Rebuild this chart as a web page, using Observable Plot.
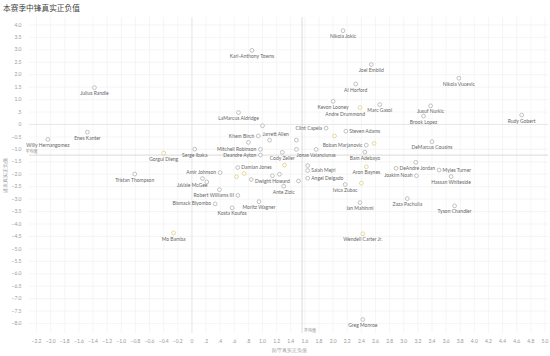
<!DOCTYPE html>
<html><head><meta charset="utf-8">
<script src="https://cdn.jsdelivr.net/npm/d3@7"></script>
<script src="https://cdn.jsdelivr.net/npm/@observablehq/plot@0.6"></script>
<style>
body{margin:0;background:#fff;width:550px;height:356px;overflow:hidden}
#title{height:14px;font-family:"Noto Sans CJK SC";font-size:7.7px;color:#444;padding-left:3px;line-height:16px;white-space:nowrap}
#chart svg{display:block}
</style></head><body>
<div id="title">本赛季中锋真实正负值</div>
<div id="chart"></div>
<script>
// Labeled players: defensive RPM (x), offensive RPM (y), colour group
const players = ["Nikola Jokic","Karl-Anthony Towns","Joel Embiid","Nikola Vucevic","Al Horford","Julius Randle","Kevon Looney","Andre Drummond","Marc Gasol","Jusuf Nurkic","Brook Lopez","Rudy Gobert","LaMarcus Aldridge","Enes Kanter","Willy Hernangomez","Clint Capela","Steven Adams","Jarrett Allen","Khem Birch","Mitchell Robinson","Deandre Ayton","Cody Zeller","Jonas Valanciunas","Boban Marjanovic","DeMarcus Cousins","Bam Adebayo","Serge Ibaka","Gorgui Dieng","Tristan Thompson","Damian Jones","Amir Johnson","JaVale McGee","Robert Williams III","Bismack Biyombo","Kosta Koufos","Moritz Wagner","Dwight Howard","Ante Zizic","Salah Mejri","Angel Delgado","Aron Baynes","Ivica Zubac","Ian Mahinmi","DeAndre Jordan","Joakim Noah","Myles Turner","Hassan Whiteside","Zaza Pachulia","Tyson Chandler","Wendell Carter Jr.","Mo Bamba","Greg Monroe"];
const defRPM = [2.14,0.85,2.54,3.78,2.32,-1.38,2.00,2.38,2.66,3.38,3.28,4.67,0.66,-1.48,-2.04,1.90,2.18,1.00,0.94,0.97,0.97,1.28,1.76,2.47,3.40,2.45,0.04,-0.40,-0.81,0.65,0.40,0.15,0.65,0.33,0.57,0.95,1.14,1.30,1.64,1.64,2.47,2.17,2.38,2.89,3.18,3.50,3.67,3.05,3.72,2.42,-0.26,2.42];
const offRPM = [3.77,2.98,2.41,1.86,1.63,1.48,0.93,0.68,0.80,0.75,0.34,0.38,0.48,-0.31,-0.60,-0.15,-0.27,-0.05,-0.46,-1.00,-1.23,-1.12,-1.00,-0.83,-0.69,-1.11,-0.99,-1.15,-1.99,-1.73,-1.93,-2.17,-2.85,-3.19,-3.35,-3.10,-2.06,-2.48,-1.85,-2.16,-1.70,-2.41,-3.14,-1.76,-2.06,-1.83,-2.09,-2.98,-3.27,-4.39,-4.36,-7.84];
const group = ["g","g","g","g","g","g","g","y","g","g","g","g","g","g","g","g","g","g","g","g","g","g","g","g","g","g","g","y","g","g","g","g","g","g","g","g","g","g","g","g","y","g","g","g","g","g","g","g","g","y","y","g"];

// Unlabeled players (labels hidden in the original)
const otherDef = [0.80,1.10,1.48,1.48,2.02,2.58,1.64,3.17,2.40,0.63,0.74,0.84,1.24,1.51,1.31,0.21,0.39];
const otherOff = [-0.72,-0.63,-0.63,-1.00,-0.46,-0.76,-1.65,-1.52,-2.36,-2.10,-1.97,-2.21,-2.00,-2.27,-1.63,-2.31,-2.62];
const otherGroup = ["g","g","g","g","y","y","g","g","y","y","y","g","g","g","y","g","g"];

// Average reference lines
const avgDef = 1.56;
const avgOff = -1.23;

// Axis ticks
const xTicks = [-2.2,-2.0,-1.8,-1.6,-1.4,-1.2,-1.0,-0.8,-0.6,-0.4,-0.2,0,0.2,0.4,0.6,0.8,1.0,1.2,1.4,1.6,1.8,2.0,2.2,2.4,2.6,2.8,3.0,3.2,3.4,3.6,3.8,4.0,4.2,4.4,4.6,4.8,5.0];
const yTicks = [4.0,3.5,3.0,2.5,2.0,1.5,1.0,0.5,0,-0.5,-1.0,-1.5,-2.0,-2.5,-3.0,-3.5,-4.0,-4.5,-5.0,-5.5,-6.0,-6.5,-7.0,-7.5,-8.0];

const xTitle = "防守真实正负值";
const yTitle = "进攻真实正负值";
const avgLabel = "平均值";

const data = players.map((name, i) => ({name, x: defRPM[i], y: offRPM[i], g: group[i]}));
const others = otherDef.map((x, i) => ({x, y: otherOff[i], g: otherGroup[i]}));

const placeLeft = new Set(["Khem Birch","Mitchell Robinson","Deandre Ayton","Clint Capela","Boban Marjanovic","Amir Johnson","Robert Williams III","Bismack Biyombo","Joakim Noah"]);
const placeRight = new Set(["Steven Adams","Salah Mejri","Angel Delgado","DeAndre Jordan","Myles Turner","Damian Jones"]);
const placeBelowRight = new Set(["Jarrett Allen"]);
const placeBelowLeft = new Set(["JaVale McGee","Andre Drummond"]);
const place = d => placeLeft.has(d.name) ? "L" : placeRight.has(d.name) ? "R" : placeBelowRight.has(d.name) ? "BR" : placeBelowLeft.has(d.name) ? "BL" : "B";

const fmt = v => {
  if (v === 0) return "0";
  const s = d3.format(".1f")(v);
  return s.replace(/^(-?)0\./, "$1.");
};

const font = "Lato, 'Open Sans', sans-serif";
const lblStyle = {fontSize: 5, fill: "#666", fontFamily: font};

const chart = Plot.plot({
  width: 550,
  height: 342,
  marginLeft: 29,
  marginRight: 2,
  marginTop: 3,
  marginBottom: 23,
  style: {fontFamily: font, background: "#fff"},
  x: {domain: [-2.3, 5.05]},
  y: {domain: [-8.4, 4.3]},
  color: {domain: ["g", "y"], range: ["#a8a8a8", "#dcc775"]},
  marks: [
    Plot.gridX(xTicks, {stroke: "#efefef", strokeOpacity: 1, strokeWidth: 0.6}),
    Plot.gridY(yTicks, {stroke: "#efefef", strokeOpacity: 1, strokeWidth: 0.6}),
    Plot.ruleX([0], {stroke: "#e4e4e4", strokeWidth: 0.8}),
    Plot.ruleY([0], {stroke: "#e4e4e4", strokeWidth: 0.8}),
    Plot.ruleX([avgDef], {stroke: "#d0d0d0", strokeWidth: 0.8}),
    Plot.ruleY([avgOff], {stroke: "#d0d0d0", strokeWidth: 0.8}),
    Plot.text([avgDef], {x: d => d, frameAnchor: "bottom", dy: -2, dx: 2, textAnchor: "start", text: () => avgLabel, fontSize: 4, fill: "#888", fontFamily: "Noto Sans CJK SC"}),
    Plot.text([avgOff], {y: d => d, frameAnchor: "left", dx: -4, dy: -3, textAnchor: "start", text: () => avgLabel, fontSize: 4, fill: "#888", fontFamily: "Noto Sans CJK SC"}),
    Plot.axisX(xTicks, {tickSize: 0, tickPadding: 6, tickFormat: fmt, fontSize: 5, color: "#9a9a9a", label: xTitle, labelAnchor: "center", labelOffset: 18, labelArrow: "none"}),
    Plot.axisY(yTicks, {tickSize: 0, tickPadding: 8, tickFormat: fmt, fontSize: 5, color: "#9a9a9a", label: yTitle, labelAnchor: "center", labelOffset: 26, labelArrow: "none"}),
    Plot.dot(others, {x: "x", y: "y", r: 1.9, stroke: "g", fill: "white", strokeWidth: 0.7}),
    Plot.dot(data, {x: "x", y: "y", r: 1.9, stroke: "g", fill: "white", strokeWidth: 0.7}),
    Plot.text(data, {filter: d => place(d) === "B", x: "x", y: "y", text: "name", dy: 6, ...lblStyle}),
    Plot.text(data, {filter: d => place(d) === "L", x: "x", y: "y", text: "name", dx: -4, textAnchor: "end", ...lblStyle}),
    Plot.text(data, {filter: d => place(d) === "R", x: "x", y: "y", text: "name", dx: 3.5, textAnchor: "start", ...lblStyle}),
    Plot.text(data, {filter: d => place(d) === "BR", x: "x", y: "y", text: "name", dy: 9, textAnchor: "start", ...lblStyle}),
    Plot.text(data, {filter: d => place(d) === "BL", x: "x", y: "y", text: "name", dy: 7, dx: 5, textAnchor: "end", ...lblStyle})
  ]
});
document.getElementById("chart").appendChild(chart);
</script>
</body></html>
